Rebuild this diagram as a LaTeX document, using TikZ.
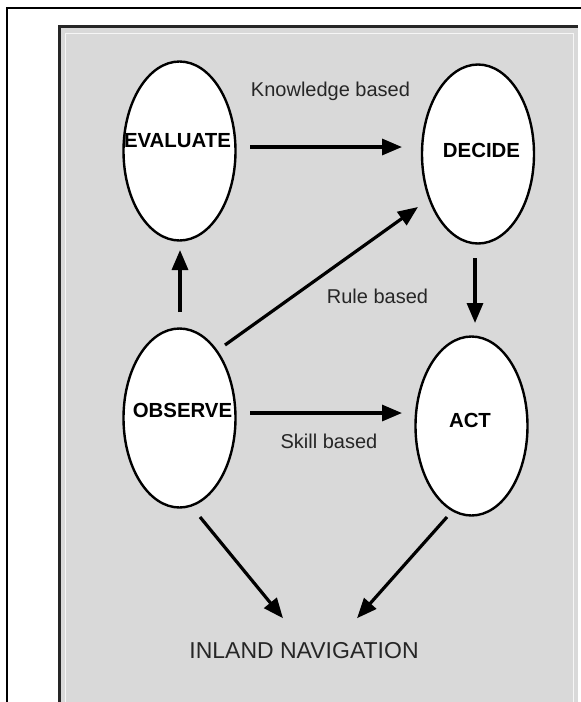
\documentclass[tikz,border=0pt]{standalone}
\usepackage{fontspec}
\setmainfont{Liberation Sans}
\usetikzlibrary{shapes.geometric,arrows.meta}
\definecolor{panel}{HTML}{D9D9D9}
\definecolor{labelgray}{HTML}{262626}
\begin{document}
\begin{tikzpicture}[x=1pt,y=-1pt,
  stage/.style={draw=black, line width=2.4pt, fill=white, ellipse,
    minimum width=112pt, minimum height=179pt, inner sep=0pt},
  stagetext/.style={anchor=base, inner sep=0pt,
    font=\fontsize{20.4}{24}\selectfont\bfseries},
  route/.style={anchor=base, inner sep=0pt, text=labelgray,
    font=\fontsize{20}{24}\selectfont},
  flow/.style={line width=3.2pt, -{Triangle[length=20pt,width=16pt]}},
]
\useasboundingbox (0,0) rectangle (581,702);
\fill[white] (0,0) rectangle (581,702);

% outer frame
\draw[line width=2pt] (7,702) -- (7,8) -- (581,8);

% sunken grey panel
\fill[panel] (58,25) rectangle (578,702);
\draw[line width=3pt, black!85] (59.5,702) -- (59.5,26.5) -- (578,26.5);
\draw[line width=1pt, white!75!panel] (65,702) -- (65,33) -- (573,33) -- (573,702);

% the four stages
\node[stage] (eval)   at (179.5,151) {};
\node[stage] (decide) at (478,154)   {};
\node[stage] (obs)    at (179.5,418) {};
\node[stage] (act)    at (471.5,426) {};

\node[stagetext] (evaltxt)   at (177.5,147) {EVALUATE};
\node[stagetext] (decidetxt) at (481.5,157) {DECIDE};
\node[stagetext] (obstxt)    at (182.5,417) {OBSERVE};
\node[stagetext] (acttxt)    at (470,427)   {ACT};

% behaviour levels
\node[route] (know)  at (330.5,96) {Knowledge based};
\node[route] (rule)  at (377.5,303) {Rule based};
\node[route] (skill) at (329,448)  {Skill based};

% outcome
\node[anchor=base, inner sep=0pt, text=labelgray,
  font=\fontsize{23}{27}\selectfont] (inland) at (304,658) {INLAND NAVIGATION};

% connectors
\draw[flow] ([shift={(70.5,-4)}]eval.center) -- ([shift={(-76,-7)}]decide.center);
\draw[flow] ([shift={(0.5,-106)}]obs.center) -- ([shift={(0.5,99)}]eval.center);
\draw[flow] ([shift={(45.5,-73)}]obs.center) -- ([shift={(-60,53)}]decide.center);
\draw[flow] ([shift={(-3,104)}]decide.center) -- ([shift={(3.5,-103)}]act.center);
\draw[flow] ([shift={(70.5,-5)}]obs.center) -- ([shift={(-69.5,-13)}]act.center);
\draw[flow] ([shift={(20.5,99)}]obs.center) -- ([shift={(-21,-23.5)}]inland.north);
\draw[flow] ([shift={(-24.5,91)}]act.center) -- ([shift={(53,-23.5)}]inland.north);
\end{tikzpicture}
\end{document}
